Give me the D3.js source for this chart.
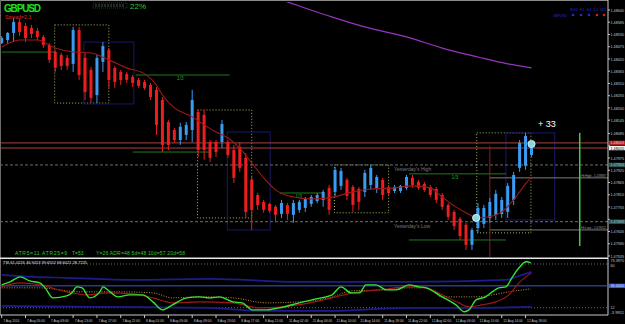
<!DOCTYPE html>
<html>
<head>
<meta charset="utf-8">
<script src="https://cdn.jsdelivr.net/npm/d3@7"></script>
<style>
html, body { margin: 0; padding: 0; background: #000; }
svg { display: block; font-family: "Liberation Sans", Arial, sans-serif; }
</style>
</head>
<body>
<div id="chart"></div>
<script>
// GBPUSD H1, 7 Aug 01:00 .. 12 Aug 19:00 (bar index 0..89)
const opens  = [1.48492,1.48505,1.48537,1.48586,1.48568,1.48559,1.48546,1.48519,1.48483,1.48451,1.48438,1.48425,1.48398,1.48550,1.48425,1.48371,1.48258,1.48407,1.48460,1.48380,1.48362,1.48353,1.48339,1.48326,1.48317,1.48303,1.48281,1.48236,1.48137,1.48101,1.48056,1.48079,1.48101,1.48182,1.48169,1.48047,1.48047,1.48047,1.48047,1.48011,1.48025,1.47976,1.47877,1.47809,1.47778,1.47769,1.47756,1.47724,1.47764,1.47720,1.47742,1.47751,1.47769,1.47782,1.47787,1.47841,1.47823,1.47850,1.47877,1.47845,1.47836,1.47823,1.47854,1.47836,1.47877,1.47845,1.47827,1.47827,1.47841,1.47886,1.47868,1.47859,1.47845,1.47836,1.47809,1.47764,1.47733,1.47702,1.47675,1.47585,1.47661,1.47679,1.47706,1.47720,1.47724,1.47733,1.47787,1.47931,1.47940,1.47989];
const highs  = [1.48523,1.48541,1.48604,1.48600,1.48582,1.48573,1.48559,1.48528,1.48492,1.48460,1.48447,1.48438,1.48564,1.48564,1.48447,1.48384,1.48438,1.48496,1.48469,1.48389,1.48371,1.48362,1.48348,1.48335,1.48326,1.48312,1.48294,1.48249,1.48146,1.48110,1.48133,1.48137,1.48281,1.48191,1.48191,1.48056,1.48056,1.48146,1.48056,1.48034,1.48047,1.47998,1.47890,1.47818,1.47787,1.47773,1.47764,1.47787,1.47773,1.47787,1.47787,1.47800,1.47809,1.47818,1.47832,1.47854,1.47935,1.47931,1.47886,1.47854,1.47845,1.47922,1.47944,1.47899,1.47886,1.47854,1.47854,1.47854,1.47899,1.47899,1.47877,1.47868,1.47854,1.47845,1.47818,1.47773,1.47742,1.47711,1.47684,1.47661,1.47773,1.47764,1.47796,1.47832,1.47800,1.47863,1.47913,1.48056,1.48088,1.48043];
const lows   = [1.48487,1.48487,1.48496,1.48523,1.48496,1.48514,1.48505,1.48469,1.48402,1.48362,1.48371,1.48371,1.48362,1.48326,1.48236,1.48222,1.48222,1.48362,1.48290,1.48290,1.48303,1.48312,1.48294,1.48290,1.48281,1.48236,1.48079,1.48002,1.48011,1.48043,1.48034,1.48056,1.48047,1.47980,1.47967,1.47958,1.47980,1.48020,1.47976,1.47863,1.47913,1.47706,1.47652,1.47742,1.47729,1.47729,1.47688,1.47706,1.47697,1.47684,1.47729,1.47733,1.47756,1.47773,1.47756,1.47720,1.47800,1.47832,1.47787,1.47733,1.47742,1.47800,1.47832,1.47818,1.47787,1.47809,1.47818,1.47818,1.47832,1.47841,1.47832,1.47823,1.47800,1.47773,1.47742,1.47697,1.47652,1.47607,1.47562,1.47562,1.47639,1.47661,1.47684,1.47697,1.47706,1.47706,1.47764,1.47913,1.47922,1.47980];
const closes = [1.48514,1.48537,1.48586,1.48541,1.48514,1.48532,1.48519,1.48483,1.48416,1.48380,1.48389,1.48389,1.48550,1.48348,1.48272,1.48245,1.48425,1.48478,1.48326,1.48317,1.48326,1.48326,1.48312,1.48299,1.48290,1.48249,1.48124,1.48034,1.48034,1.48056,1.48115,1.48124,1.48236,1.48011,1.48011,1.47976,1.48002,1.48128,1.47989,1.47886,1.47931,1.47733,1.47742,1.47764,1.47742,1.47738,1.47720,1.47773,1.47724,1.47773,1.47778,1.47791,1.47800,1.47809,1.47823,1.47742,1.47922,1.47917,1.47805,1.47764,1.47778,1.47908,1.47931,1.47890,1.47809,1.47818,1.47845,1.47850,1.47890,1.47854,1.47841,1.47832,1.47809,1.47787,1.47756,1.47711,1.47670,1.47625,1.47585,1.47652,1.47751,1.47751,1.47778,1.47814,1.47787,1.47850,1.47899,1.48043,1.48074,1.48020];

// fast moving average (dark red) and slow one (purple), read at bar positions
const maIdx = [0,3,6,9,12,15,18,21,24,26,27,29,32,34,36,38,40,42,44,46,49,52,55,59,62,66,69,72,74,76,78,80,82,84,86,88,89];
const maVal = [1.48474,1.48505,1.48505,1.48469,1.48451,1.48447,1.48416,1.48380,1.48353,1.48303,1.48258,1.48200,1.48160,1.48124,1.48092,1.48065,1.48020,1.47953,1.47886,1.47832,1.47800,1.47791,1.47796,1.47823,1.47836,1.47841,1.47850,1.47841,1.47800,1.47760,1.47729,1.47706,1.47711,1.47733,1.47787,1.47859,1.47890];
const slowIdx = [46,48,55,61,68,74,80,85,89];
const slowVal = [1.48694,1.48676,1.48613,1.48564,1.48519,1.48469,1.48429,1.48398,1.48380];

// price axis
const priceLabels = ["1.48640","1.48585","1.48530","1.48475","1.48420","1.48365","1.48310","1.48255","1.48200","1.48145","1.48085","1.48030","1.47975","1.47920","1.47865","1.47810","1.47755","1.47700","1.47645","1.47590","1.47535"];
const timeLabels = ["7 Aug 2014","7 Aug 05:00","7 Aug 09:00","7 Aug 13:00","7 Aug 17:00","7 Aug 21:00","8 Aug 01:00","8 Aug 05:00","8 Aug 09:00","8 Aug 13:00","8 Aug 17:00","8 Aug 21:00","11 Aug 02:00","11 Aug 06:00","11 Aug 10:00","11 Aug 14:00","11 Aug 18:00","11 Aug 22:00","12 Aug 02:00","12 Aug 06:00","12 Aug 10:00","12 Aug 14:00","12 Aug 18:00"];

// session boxes (bar index / price)
const sessStart = [8.9, 32.9, 55.9, 79.8];
const sessEnd   = [18.0, 42.0, 65.0, 88.9];
const sessTop   = [1.48573, 1.48191, 1.47944, 1.48088];
const sessBot   = [1.48222, 1.47706, 1.47729, 1.47639];
const rangeStart = [13.8, 37.9, 84.7];
const rangeEnd   = [22.2, 45.1, 92.9];
const rangeTop   = [1.48496, 1.48092, 1.48088];
const rangeBot   = [1.48218, 1.47652, 1.47697];

// level lines
const askBid = [1.48043, 1.48020];
const yesterday = [1.47944, 1.47689];
const yesterdayNames = ["Yesterday's High", "Yesterday's Low"];
const hiLevels = [1.47886, 1.47652];
const hiNames = ["Hi High - 1.47887", "Hi Low - 1.47652"];
const greenStart = [0, 22.5, 22, 46.7, 68.4, 68.4];
const greenEnd   = [8.9, 38.3, 35, 53.9, 84.7, 84.7];
const greenPrice = [1.48451, 1.48348, 1.48002, 1.47818, 1.47904, 1.47607];
const greenTag   = ["", "1/3", "", "1/3", "1/3", ""];

// TSI panel
const tsiIdx = [0,1.4,3.1,4.7,6.4,7.3,8.6,10.9,11.8,12.6,13.5,14.8,16.5,17.0,18.2,19.5,21.5,23.7,25.4,27.0,28.7,31.1,33.2,34.9,36.6,38.8,40.4,42.1,44.5,46.6,50.0,52.8,54.5,55.5,57.0,58.7,60.1,61.2,62.9,64.6,66.3,68.4,70.1,71.3,74.0,76.3,77.7,78.5,79.7,81.3,82.4,83.5,84.7,85.7,86.9,88.1,88.9];
const tsiVal = [37.1,40.4,45.9,41.5,39.3,33.8,22.8,25.0,28.3,34.9,33.8,22.8,29.4,34.9,29.4,23.9,26.1,26.1,18.4,9.6,15.1,22.8,23.9,22.8,23.9,18.4,17.3,9.6,9.6,11.8,17.3,21.7,23.9,26.1,34.9,28.3,28.3,37.1,37.1,31.6,31.6,37.1,34.9,33.8,23.9,15.1,7.5,9.6,20.6,23.9,29.4,33.8,34.9,44.8,55.8,62.4,61.3];
const sigIdx = [0,3.1,6.4,10.9,14.3,17.7,22.0,25.4,28.7,33.2,38.8,43.3,47.2,51.7,55.5,58.9,63.4,68.4,71.3,74.0,76.8,78.5,80.7,83.0,85.2,86.9,89];
const sigVal = [34.9,39.3,37.1,29.4,26.1,28.3,27.2,22.8,17.3,18.4,17.3,11.8,12.9,17.3,22.8,28.3,31.6,34.9,33.8,26.1,17.3,12.9,15.1,18.4,26.1,39.3,50.3];
const slowSigIdx = [0,6.4,13.1,19.8,25.4,28.7,33.2,38.8,44.5,50,55,58.9,64.6,68.4,71.3,74,79.7,82.4,85.2,88.9];
const slowSigVal = [33.8,33.8,29.4,29.4,28.3,22.8,24.0,22.8,17.3,18.4,22.8,30.5,31.6,33.8,33.8,23.9,23.9,26.1,29.4,32.7];
const bandUpIdx = [0,5.3,11,22,35,50,68.4,84.7,87,89];
const bandUpVal = [48.1,45.9,44.8,42.6,43.7,40.4,40.4,42.6,47.0,51.4];
const bandLoIdx = [0,16.5,35,43.3,55,68.4,78.5,89];
const bandLoVal = [14.0,12.9,11.8,8.5,8.5,11.8,11.8,12.9];
const tsiLevels = [60, 12];

const W = 625, H = 324;
const axisX = 608;

const svg = d3.select("#chart").append("svg").attr("width", W).attr("height", H);
svg.append("rect").attr("width", W).attr("height", H).attr("fill", "#000");

const x = d3.scaleLinear().domain([0, 89]).range([1.7, 531.5]);
const y = d3.scaleLinear().domain([1.47535, 1.48640]).range([256, 10]);
const yi = d3.scaleLinear().domain([12, 60]).range([307.7, 264]);

const defs = svg.append("defs");
defs.append("clipPath").attr("id", "clipMain").append("rect").attr("x", 0).attr("y", 2).attr("width", axisX).attr("height", 255);
defs.append("clipPath").attr("id", "clipInd").append("rect").attr("x", 0).attr("y", 259).attr("width", axisX).attr("height", 56);

const main = svg.append("g").attr("clip-path", "url(#clipMain)");

// session / range boxes
sessStart.forEach((s, k) => {
    main.append("rect")
        .attr("x", x(s)).attr("y", y(sessTop[k]))
        .attr("width", x(sessEnd[k]) - x(s)).attr("height", y(sessBot[k]) - y(sessTop[k]))
        .attr("fill", "none").attr("stroke", "#a9b85c").attr("stroke-width", 1)
        .attr("stroke-dasharray", "1,2");
});
rangeStart.forEach((s, k) => {
    main.append("rect")
        .attr("x", x(s)).attr("y", y(rangeTop[k]))
        .attr("width", x(rangeEnd[k]) - x(s)).attr("height", y(rangeBot[k]) - y(rangeTop[k]))
        .attr("fill", "none").attr("stroke", "#181868").attr("stroke-width", 1);
});

// full width levels
askBid.forEach(p => {
    main.append("line").attr("x1", 0).attr("x2", axisX).attr("y1", y(p)).attr("y2", y(p))
        .attr("stroke", "#a84040").attr("stroke-width", 1);
});
yesterday.forEach((p, k) => {
    main.append("line").attr("x1", 0).attr("x2", axisX).attr("y1", y(p)).attr("y2", y(p))
        .attr("stroke", "#6e6e6e").attr("stroke-dasharray", "3,2");
    main.append("text").attr("x", 394).attr("y", y(p) + 6)
        .attr("fill", "#7a7a7a").style("font-size", "5px").text(yesterdayNames[k]);
});
hiLevels.forEach((p, k) => {
    main.append("line").attr("x1", x(82)).attr("x2", axisX).attr("y1", y(p)).attr("y2", y(p))
        .attr("stroke", "#7c7c7c");
    main.append("text").attr("x", 581).attr("y", y(p) - 1)
        .attr("fill", "#8a8a8a").style("font-size", "4px").attr("textLength", 25).text(hiNames[k]);
});
greenPrice.forEach((p, k) => {
    main.append("line").attr("x1", x(greenStart[k])).attr("x2", x(greenEnd[k]))
        .attr("y1", y(p)).attr("y2", y(p)).attr("stroke", "#1f7a1f");
    if (greenTag[k]) {
        main.append("text").attr("x", (x(greenStart[k]) + x(greenEnd[k])) / 2 - 6).attr("y", y(p) + 5)
            .attr("fill", "#2aa02a").style("font-size", "5px").text(greenTag[k]);
    }
});

// verticals
main.append("line").attr("x1", x(82)).attr("x2", x(82)).attr("y1", y(1.48030)).attr("y2", 258)
    .attr("stroke", "#8c1c1c");
main.append("line").attr("x1", x(97.1)).attr("x2", x(97.1)).attr("y1", y(1.48088)).attr("y2", y(1.47580))
    .attr("stroke", "#3fcf3f").attr("stroke-width", 1.5);

// slow MA (purple)
const line = (xs, ys, sx, sy) => d3.line().x((d, i) => sx(xs[i])).y((d, i) => sy(ys[i])).curve(d3.curveMonotoneX)(ys);
main.append("path").attr("d", line(slowIdx, slowVal, x, y))
    .attr("fill", "none").attr("stroke", "#9437b8").attr("stroke-width", 1.2);

// candles
const bars = main.append("g");
opens.forEach((o, i) => {
    const c = closes[i];
    const col = c >= o ? "#3a9bf0" : "#ec1e1e";
    const cx = x(i);
    bars.append("line").attr("x1", cx).attr("x2", cx).attr("y1", y(highs[i])).attr("y2", y(lows[i]))
        .attr("stroke", col).attr("stroke-width", 1);
    const top = y(Math.max(o, c)), bot = y(Math.min(o, c));
    bars.append("rect").attr("x", cx - 1.5).attr("y", top).attr("width", 3).attr("height", Math.max(1, bot - top))
        .attr("fill", col);
});

// fast MA (dark red)
main.append("path").attr("d", line(maIdx, maVal, x, y))
    .attr("fill", "none").attr("stroke", "#a01818").attr("stroke-width", 1.1);

// signal circles
[[79.7, 1.47706], [89, 1.48038]].forEach(d => {
    main.append("circle").attr("cx", x(d[0])).attr("cy", y(d[1])).attr("r", 3.6)
        .attr("fill", "#86d6e6").attr("stroke", "#e8ffff").attr("stroke-width", 0.8);
});
main.append("text").attr("x", 538).attr("y", 127).attr("fill", "#fff").style("font-size", "9px").text("+ 33");

// header texts
svg.append("text").attr("x", 4).attr("y", 12).attr("fill", "#1fe01f")
    .style("font-size", "10px").style("font-weight", "bold").attr("textLength", 37).text("GBPUSD");
svg.append("text").attr("x", 5).attr("y", 19).attr("fill", "#e02020").style("font-size", "5px").text("Spread=2.3");
svg.append("rect").attr("x", 93).attr("y", 3).attr("width", 34).attr("height", 5)
    .attr("fill", "none").attr("stroke", "#4a5a4a").attr("stroke-width", 0.6).attr("stroke-dasharray", "1,1");
d3.range(96, 126, 3).forEach(v => {
    svg.append("line").attr("x1", v).attr("x2", v).attr("y1", 4).attr("y2", 7).attr("stroke", "#5f7f5f").attr("stroke-width", 0.7);
});
svg.append("text").attr("x", 130).attr("y", 9).attr("fill", "#2fc82f").style("font-size", "8px").text("22%");

svg.append("text").attr("x", 570).attr("y", 11).attr("fill", "#2a2ad0").style("font-size", "3.6px").attr("textLength", 36).text("M30 H1 H4 D1 W1");
svg.append("text").attr("x", 553).attr("y", 16.5).attr("fill", "#2a2ad0").style("font-size", "3.6px").attr("textLength", 14).text("GBPUSD");
[[573, "#2a2ad0"], [581, "#2a2ad0"], [589, "#2a2ad0"], [597, "#d02020"], [604, "#d02020"]].forEach(d => {
    svg.append("circle").attr("cx", d[0]).attr("cy", 15).attr("r", 1.3).attr("fill", d[1]);
});

svg.append("text").attr("x", 15).attr("y", 255).attr("fill", "#2fc82f").style("font-size", "5px").attr("textLength", 52).text("ATR5=11 ATR25=9");
svg.append("text").attr("x", 72).attr("y", 255).attr("fill", "#2fc82f").style("font-size", "5px").text("T=53");
svg.append("text").attr("x", 96).attr("y", 255).attr("fill", "#2fc82f").style("font-size", "5px").attr("textLength", 89).text("Y=26  ADR=48  5d=48  10d=57  20d=58");

// frame
svg.append("line").attr("x1", 0).attr("x2", axisX).attr("y1", 0.5).attr("y2", 0.5).attr("stroke", "#8a8a8a");
svg.append("line").attr("x1", 0.5).attr("x2", 0.5).attr("y1", 0).attr("y2", 315).attr("stroke", "#6a6a6a");
svg.append("line").attr("x1", axisX).attr("x2", axisX).attr("y1", 0).attr("y2", 315).attr("stroke", "#c8c8c8");
svg.append("line").attr("x1", 0).attr("x2", axisX).attr("y1", 258.3).attr("y2", 258.3).attr("stroke", "#e8e8e8").attr("stroke-width", 1.6);
svg.append("line").attr("x1", 0).attr("x2", axisX).attr("y1", 315).attr("y2", 315).attr("stroke", "#c8c8c8");

// price axis (labels hidden behind a price tag are skipped, as in the terminal)
const tagPrices = [yesterday[0], yesterday[1], askBid[0], askBid[1]];
const axisText = (ty, s, fill, len) => svg.append("text").attr("x", axisX + 2.5).attr("y", ty)
    .attr("fill", fill).style("font-size", "4.4px").attr("textLength", len).attr("lengthAdjust", "spacingAndGlyphs").text(s);
priceLabels.forEach(s => {
    const py = y(+s);
    svg.append("line").attr("x1", axisX).attr("x2", axisX + 2).attr("y1", py).attr("y2", py).attr("stroke", "#c8c8c8");
    if (tagPrices.some(p => Math.abs(y(p) - py) < 4.6)) return;
    axisText(py + 1.6, s, "#c8c8c8", 13.5);
});
const tag = (p, bg, fg, s) => {
    svg.append("rect").attr("x", axisX + 1).attr("y", y(p) - 2.2).attr("width", 16).attr("height", 4.4).attr("fill", bg);
    axisText(y(p) + 1.5, s, fg, 13.5);
};
tag(yesterday[0], "#2d5555", "#a8c0c0", "1.47944");
tag(yesterday[1], "#2d5555", "#a8c0c0", "1.47689");
tag(askBid[0], "#b22222", "#f0d0d0", "1.48043");
tag(askBid[1], "#f4f4f4", "#000", "1.48020");

// indicator panel
const ind = svg.append("g").attr("clip-path", "url(#clipInd)");
ind.append("line").attr("x1", 0).attr("x2", axisX).attr("y1", yi(36)).attr("y2", yi(36)).attr("stroke", "#4257c8");
tsiLevels.forEach(v => {
    ind.append("line").attr("x1", 0).attr("x2", axisX).attr("y1", yi(v)).attr("y2", yi(v))
        .attr("stroke", "#6a6a6a").attr("stroke-dasharray", "1,2");
});
ind.append("path").attr("d", line(bandUpIdx, bandUpVal, x, yi)).attr("fill", "none").attr("stroke", "#1c1c90").attr("stroke-width", 1.6);
ind.append("path").attr("d", line(bandLoIdx, bandLoVal, x, yi)).attr("fill", "none").attr("stroke", "#1c1c90").attr("stroke-width", 1.6);
ind.append("path").attr("d", line(slowSigIdx, slowSigVal, x, yi)).attr("fill", "none").attr("stroke", "#d8a040").attr("stroke-width", 0.9).attr("stroke-dasharray", "1,1.5");
ind.append("path").attr("d", line(sigIdx, sigVal, x, yi)).attr("fill", "none").attr("stroke", "#a01818").attr("stroke-width", 1.1);
ind.append("path").attr("d", line(tsiIdx, tsiVal, x, yi)).attr("fill", "none").attr("stroke", "#33e633").attr("stroke-width", 1.4);
svg.append("text").attr("x", 3).attr("y", 264).attr("fill", "#e8e8e8").style("font-size", "4px")
    .text("TSI 61.0126 46.9413 39.6552 68.6021 28.7225");

// indicator axis
axisText(262, "73.3970", "#c8c8c8", 13.5);
axisText(yi(60) + 3.2, "60", "#c8c8c8", 4);
axisText(yi(12) + 1.5, "12", "#c8c8c8", 4);
axisText(314, "-3.9911", "#c8c8c8", 13.5);
svg.append("rect").attr("x", axisX + 1).attr("y", yi(36) - 2.2).attr("width", 16).attr("height", 4.4).attr("fill", "#3a5ad0");
axisText(yi(36) + 1.5, "36.0000", "#d8e0ff", 13.5);

// time axis
timeLabels.forEach((s, k) => {
    const tx = x(k * 4);
    svg.append("line").attr("x1", tx).attr("x2", tx).attr("y1", 315).attr("y2", 318).attr("stroke", "#c8c8c8");
    svg.append("text").attr("x", tx + 1.5).attr("y", 321.5).attr("fill", "#c8c8c8").style("font-size", "4.2px")
        .attr("textLength", s.length * 1.62).attr("lengthAdjust", "spacingAndGlyphs").text(s);
});
</script>
</body>
</html>
